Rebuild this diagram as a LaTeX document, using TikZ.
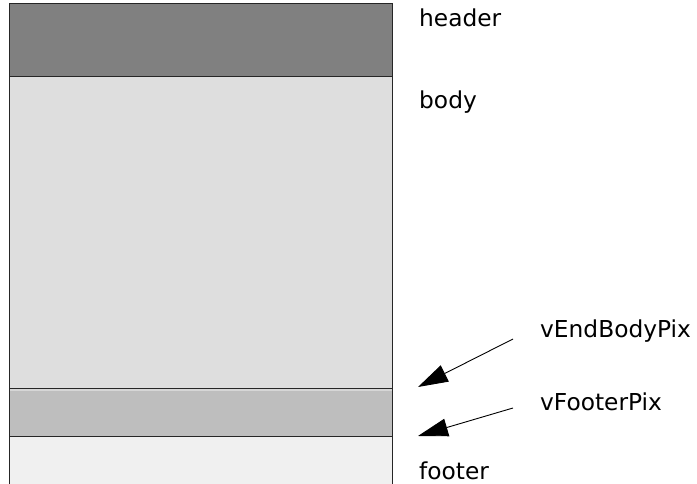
\documentclass[tikz,border=0pt]{standalone}
\usepackage{fontspec}
\setmainfont{DejaVu Sans}
\usetikzlibrary{arrows.meta}
\definecolor{headergray}{HTML}{808080}
\definecolor{bodygray}{HTML}{DEDEDE}
\definecolor{bandgray}{HTML}{BEBEBE}
\definecolor{gapgray}{HTML}{D6D6D6}
\definecolor{footergray}{HTML}{F0F0F0}
\begin{document}
\begin{tikzpicture}[x=1pt,y=-1pt,
    band/.style={draw=black!85,line width=1pt},
    lbl/.style={anchor=base west,inner sep=0pt,font=\fontsize{23.3}{28}\selectfont},
    pointer/.style={line width=0.9pt,-{Triangle[length=30pt,width=18pt]}}]
    \useasboundingbox (0,0) rectangle (697,484);
    \clip (0,0) rectangle (697,484);

    % the page bands
    \fill[footergray] (9,436.3) rectangle (392.7,500) coordinate (F);
    \draw[band,fill=headergray] (9,4) rectangle (392.7,76.7);
    \draw[band,fill=bodygray] (9,76.7) rectangle (392.7,388.3);
    \draw[band,fill=bandgray] (9,388.3) rectangle (392.7,436.3);
    \fill[gapgray] (9.5,388.9) rectangle (392.2,391);
    \draw[band] (9,436.3) -- (9,500) (392.7,436.3) -- (392.7,500);

    % labels
    \node[lbl] (header) at (419,26.5) {header};
    \node[lbl] (body) at (419,108.3) {body};
    \node[lbl] (endbody) at (540,337.3) {vEndBodyPix};
    \node[lbl] (footerpix) at (540,410) {vFooterPix};
    \node[lbl] (footer) at (419,479.3) {footer};

    % pointers
    \coordinate (endbodytail) at (513,339);
    \coordinate (endbodytip) at (418,387);
    \coordinate (footertail) at (513,408);
    \coordinate (footertip) at (418,436);
    \draw[pointer] (endbodytail) -- (endbodytip);
    \draw[pointer] (footertail) -- (footertip);
  \end{tikzpicture}
\end{document}
